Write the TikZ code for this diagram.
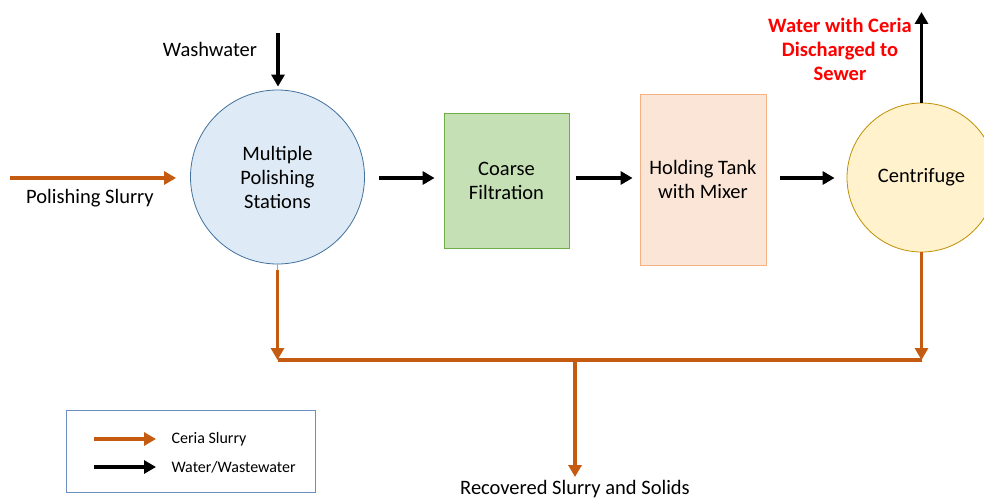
\documentclass[tikz,border=0pt]{standalone}
\usepackage{fontspec}
\setmainfont{Carlito}
\usetikzlibrary{arrows.meta}
\definecolor{slurry}{HTML}{C55A11}
\definecolor{c1fill}{HTML}{DEEBF7}
\definecolor{c1line}{HTML}{41719C}
\definecolor{cffill}{HTML}{C5E0B4}
\definecolor{cfline}{HTML}{70AD47}
\definecolor{htfill}{HTML}{FBE5D6}
\definecolor{htline}{HTML}{F4B183}
\definecolor{cenfill}{HTML}{FFF2CC}
\definecolor{cenline}{HTML}{BF9000}
\definecolor{legline}{HTML}{6C8EBF}
\tikzset{
  main/.style={font=\fontsize{20.5}{24}\selectfont, align=center},
  proc/.style={main, draw, line width=0.8pt, inner sep=0pt},
  warrow/.style={line width=3.5pt, -{Triangle[length=12pt,width=13pt]}, black},
  sarrow/.style={line width=3.5pt, -{Triangle[length=12pt,width=13pt]}, slurry},
  sline/.style={line width=3.5pt, slurry},
}
\begin{document}
\begin{tikzpicture}[x=1pt,y=-1pt]
\useasboundingbox (0,0) rectangle (984,500);
% process units
\node[proc, circle, fill=c1fill, draw=c1line, minimum size=174pt] (mps) at (277.5,177) {Multiple\\Polishing\\Stations};
\node[proc, rectangle, fill=cffill, draw=cfline, minimum width=125pt, minimum height=135pt] (cf) at (506.5,180.5) {Coarse\\Filtration};
\node[proc, rectangle, fill=htfill, draw=htline, minimum width=126pt, minimum height=171pt] (ht) at (703,179.5) {Holding Tank\\with Mixer};
\node[proc, circle, fill=cenfill, draw=cenline, minimum size=149pt] (cen) at (921.5,177.5) {Centrifuge};
% free ends
\coordinate (ww) at (278,33);
\coordinate (ps) at (10,178);
\coordinate (out) at (921.5,12);
\coordinate (j1) at (277.5,360);
\coordinate (j2) at (921.5,360);
\coordinate (jm) at (575,360);
\coordinate (rec) at (575,477);
\coordinate (mpsb) at (277.5,270);
% labels
\node[main] (lww) at (210,49) {Washwater};
\node[main] (lps) at (90,198) {Polishing Slurry};
\node[main, text=red, font=\fontsize{20.5}{24}\selectfont\bfseries] (lout) at (840,49) {Water with Ceria\\Discharged to\\Sewer};
\node[main] (lrec) at (575,489) {Recovered Slurry and Solids};
% water arrows
\draw[warrow] (ww) -- ([yshift=3pt]mps.north -| ww);
\draw[warrow] ([xshift=14pt]mps.east |- 0,178) -- ([xshift=-9pt]cf.west |- 0,178);
\draw[warrow] ([xshift=7pt]cf.east |- 0,178) -- ([xshift=-7pt]ht.west |- 0,178);
\draw[warrow] ([xshift=14pt]ht.east |- 0,178) -- ([xshift=-12pt]cen.west |- 0,178);
\draw[warrow] (cen.north) -- (out);
% slurry arrows
\draw[sarrow] (ps) -- ([xshift=-14pt]mps.west |- ps);
\draw[c1line!60, line width=0.6pt] (mps.south) -- (mpsb);
\draw[sarrow] (mpsb) -- (j1);
\draw[sarrow] (cen.south) -- (j2);
\draw[sline] (j1) -- (j2);
\draw[sarrow] (jm) -- (rec);
% legend
\node[draw=legline, line width=0.8pt, minimum width=249pt, minimum height=82pt, inner sep=0pt] (leg) at (190.5,451) {};
\coordinate (la1) at (94,439);
\coordinate (lb1) at (156,439);
\coordinate (la2) at (94,467);
\coordinate (lb2) at (156,467);
\draw[sarrow] (la1) -- (lb1);
\draw[warrow] (la2) -- (lb2);
\node[anchor=west, font=\fontsize{16}{18}\selectfont] (lg1) at (168,439) {Ceria Slurry};
\node[anchor=west, font=\fontsize{16}{18}\selectfont] (lg2) at (168,467) {Water/Wastewater};
\end{tikzpicture}
\end{document}
